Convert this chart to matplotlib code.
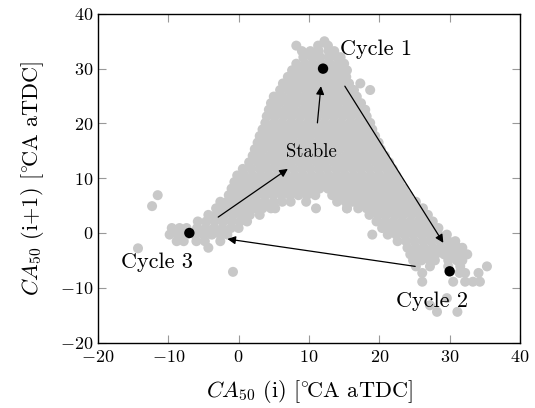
import matplotlib.pyplot as plt

plt.rcParams['font.family'] = 'cmr10'
plt.rcParams['mathtext.fontset'] = 'cm'
plt.rcParams['axes.formatter.use_mathtext'] = True

# CA50 return map: rows of (CA50(i+1), [CA50(i) ...])
cloud_rows = [
    (35.0, [12.2]),
    (34.2, [8.2, 11.3, 12.7]),
    (33.2, [9.0, 10.2, 11.4, 12.8, 13.6]),
    (32.1, [9.2, 10.4, 11.6, 12.8, 14.0, 14.5]),
    (30.9, [8.2, 9.4, 10.6, 11.8, 13.0, 14.2, 15.0]),
    (29.7, [7.6, 8.8, 10.0, 11.2, 12.4, 13.6, 14.8, 15.4]),
    (28.5, [7.0, 8.2, 9.4, 10.6, 11.8, 13.0, 14.2, 15.3]),
    (27.3, [6.3, 7.5, 8.7, 9.9, 11.1, 12.3, 13.5, 14.7, 15.7, 17.3]),
    (26.1, [5.9, 7.1, 8.3, 9.5, 10.7, 11.9, 13.1, 14.3, 15.5, 16.4, 18.7]),
    (24.9, [5.0, 6.2, 7.4, 8.6, 9.8, 11.0, 12.2, 13.4, 14.6, 15.8, 16.8]),
    (23.7, [4.6, 5.8, 7.0, 8.2, 9.4, 10.6, 11.8, 13.0, 14.2, 15.4, 16.6, 17.4]),
    (22.5, [4.3, 5.5, 6.7, 7.9, 9.1, 10.3, 11.5, 12.7, 13.9, 15.1, 16.3, 17.5, 18.0]),
    (21.3, [4.0, 5.2, 6.4, 7.6, 8.8, 10.0, 11.2, 12.4, 13.6, 14.8, 16.0, 17.2, 18.2]),
    (20.1, [3.8, 5.0, 6.2, 7.4, 8.6, 9.8, 11.0, 12.2, 13.4, 14.6, 15.8, 17.0, 18.2, 18.7]),
    (18.9, [3.4, 4.6, 5.8, 7.0, 8.2, 9.4, 10.6, 11.8, 13.0, 14.2, 15.4, 16.6, 17.8, 19.0]),
    (17.7, [3.0, 4.2, 5.4, 6.6, 7.8, 9.0, 10.2, 11.4, 12.6, 13.8, 15.0, 16.2, 17.4, 18.6, 19.4]),
    (16.5, [2.7, 3.9, 5.1, 6.3, 7.5, 8.7, 9.9, 11.1, 12.3, 13.5, 14.7, 15.9, 17.1, 18.3,
            19.5, 19.9]),
    (15.3, [2.3, 3.5, 4.7, 5.9, 7.1, 8.3, 9.5, 10.7, 11.9, 13.1, 14.3, 15.5, 16.7, 17.9,
            19.1, 20.2]),
    (14.1, [2.0, 3.2, 4.4, 5.6, 6.8, 8.0, 9.2, 10.4, 11.6, 12.8, 14.0, 15.2, 16.4, 17.6,
            18.8, 20.0, 20.8]),
    (12.9, [1.5, 2.7, 3.9, 5.1, 6.3, 7.5, 8.7, 9.9, 11.1, 12.3, 13.5, 14.7, 15.9, 17.1,
            18.3, 19.5, 20.7, 21.4]),
    (11.7, [0.6, 1.8, 3.0, 4.2, 5.4, 6.6, 7.8, 9.0, 10.2, 11.4, 12.6, 13.8, 15.0, 16.2,
            17.4, 18.6, 19.8, 21.0, 21.9]),
    (10.5, [-0.2, 0.8, 2.0, 3.2, 4.4, 5.6, 6.8, 8.0, 9.2, 10.4, 11.6, 12.8, 14.0, 15.2,
            16.4, 17.6, 18.8, 20.0, 21.2, 22.4]),
    (9.3, [-0.6, 0.4, 1.3, 2.5, 3.7, 4.9, 6.1, 7.3, 8.5, 9.7, 10.9, 12.1, 13.3, 14.5,
           15.7, 16.9, 18.1, 19.3, 20.5, 21.7, 22.9]),
    (8.1, [-1.0, 0.1, 0.7, 1.9, 3.1, 4.3, 5.5, 6.7, 7.9, 9.1, 10.3, 11.5, 12.7, 13.9,
           15.1, 16.3, 17.5, 18.7, 19.9, 21.1, 22.3, 23.5]),
    (6.9, [-1.4, -0.4, 0.6, 1.6, 2.6, 3.7, 4.9, 6.1, 7.3, 8.5, 9.7, 10.9, 13.3, 14.5,
           15.7, 16.9, 18.1, 19.3, 20.5, 21.7, 22.9, 24.1]),
    (5.7, [-2.6, -1.6, -0.6, 0.4, 1.4, 2.6, 3.8, 5.0, 6.2, 7.4, 9.6, 14.0, 15.2, 16.2,
           17.4, 18.6, 19.8, 21.0, 22.2, 23.4, 24.6, 25.2]),
    (4.5, [-3.2, -2.2, -1.2, -0.2, 1.0, 2.2, 3.4, 4.6, 5.2, 11.0, 15.4, 17.0, 18.2, 19.4,
           20.6, 21.8, 23.0, 24.2, 25.4, 26.2]),
    (3.3, [-4.3, -3.2, -2.0, -0.8, 0.4, 1.6, 3.0, 18.6, 19.8, 21.0, 22.2, 23.4, 24.6,
           25.8, 26.9]),
    (2.1, [-5.8, -4.6, -3.4, -2.2, -1.0, 0.2, 1.2, 19.6, 20.8, 22.0, 23.2, 24.4, 25.6,
           26.8, 27.6]),
    (0.9, [-9.5, -8.4, -7.4, -5.9, -4.7, -3.5, -2.3, -1.1, 0.0, 20.4, 21.6, 22.8, 24.0,
           25.2, 26.4, 27.6, 28.4]),
    (-0.3, [-9.8, -8.6, -7.4, -6.2, -5.0, -3.8, -2.6, -1.6, 19.0, 21.2, 22.4, 23.6,
            24.8, 26.0, 27.2, 28.4, 29.6]),
    (-1.5, [-8.8, -7.8, -6.0, -4.8, -2.6, 22.6, 23.8, 25.0, 26.2, 27.4, 28.6, 29.8, 30.8]),
    (-2.7, [-4.3, 24.0, 25.2, 26.4, 27.6, 28.8, 30.0, 31.2, 31.8]),
    (-3.9, [24.4, 25.6, 26.8, 28.0, 29.2, 30.4, 31.6, 32.5]),
    (-5.0, [24.8, 26.0, 27.2, 27.9, 29.8, 31.0, 31.8]),
    (-6.1, [25.2, 27.2, 29.8, 31.5, 35.3]),
    (-7.3, [26.1, 31.4, 32.2, 34.1]),
    (-8.9, [26.1, 30.5, 32.2, 33.3, 34.3]),
]
outlier_x = [-11.5, -12.3, -14.3, -0.8, 15.4, 29.6, 28.2, 31.1, 27.2]
outlier_y = [6.9, 4.9, -2.8, -7.1, 4.5, -11.9, -14.4, -14.4, -13.2]

cycle_x = [12, 30, -7]
cycle_y = [30, -7, 0]
cycle_labels = ['Cycle 1', 'Cycle 2', 'Cycle 3']

cloud_x = [x for y, xs in cloud_rows for x in xs] + outlier_x
cloud_y = [y for y, xs in cloud_rows for x in xs] + outlier_y

fig, ax = plt.subplots(figsize=(5.35, 4.08), dpi=100)
fig.subplots_adjust(left=0.183, right=0.972, bottom=0.1605, top=0.966)

ax.scatter(cloud_x, cloud_y, s=52, color='#c8c8c8', edgecolors='none', zorder=2)
ax.scatter(cycle_x, cycle_y, s=56, color='black', edgecolors='none', zorder=4)

ax.text(14.4, 33.6, cycle_labels[0], fontsize=16, ha='left', va='center', zorder=5)
ax.text(27.5, -12.4, cycle_labels[1], fontsize=16, ha='center', va='center', zorder=5)
ax.text(-11.6, -5.3, cycle_labels[2], fontsize=16, ha='center', va='center', zorder=5)
ax.text(10.3, 14.8, 'Stable', fontsize=13.5, ha='center', va='center', zorder=5)

arrows = [
    ((11.2, 20.1), (11.7, 26.8)),
    ((15.1, 26.8), (29.1, -1.8)),
    ((25.1, -6.1), (-1.6, -1.1)),
    ((-2.9, 2.9), (7.0, 11.7)),
]
for start, end in arrows:
    ax.annotate('', xy=end, xytext=start, zorder=5,
                arrowprops=dict(arrowstyle='-|>', color='black', lw=0.9,
                                mutation_scale=12, shrinkA=0, shrinkB=0))

ax.set_xlim(-20, 40)
ax.set_ylim(-20, 40)
ax.set_xticks(range(-20, 41, 10))
ax.set_yticks(range(-20, 41, 10))
ax.tick_params(direction='in', top=True, right=True, length=6, width=0.8,
               color='0.6', labelsize=13)
ax.tick_params(axis='x', pad=5)
for sp in ax.spines.values():
    sp.set_linewidth(1.0)

deg = r'[$^{\circ}\!$CA aTDC]'
ax.set_xlabel(r'$CA_{50}$ (i) ' + deg, fontsize=16, labelpad=9)
ax.set_ylabel(r'$CA_{50}$ (i+1) ' + deg, fontsize=16, labelpad=10)

fig.savefig('out.png', dpi=100)
